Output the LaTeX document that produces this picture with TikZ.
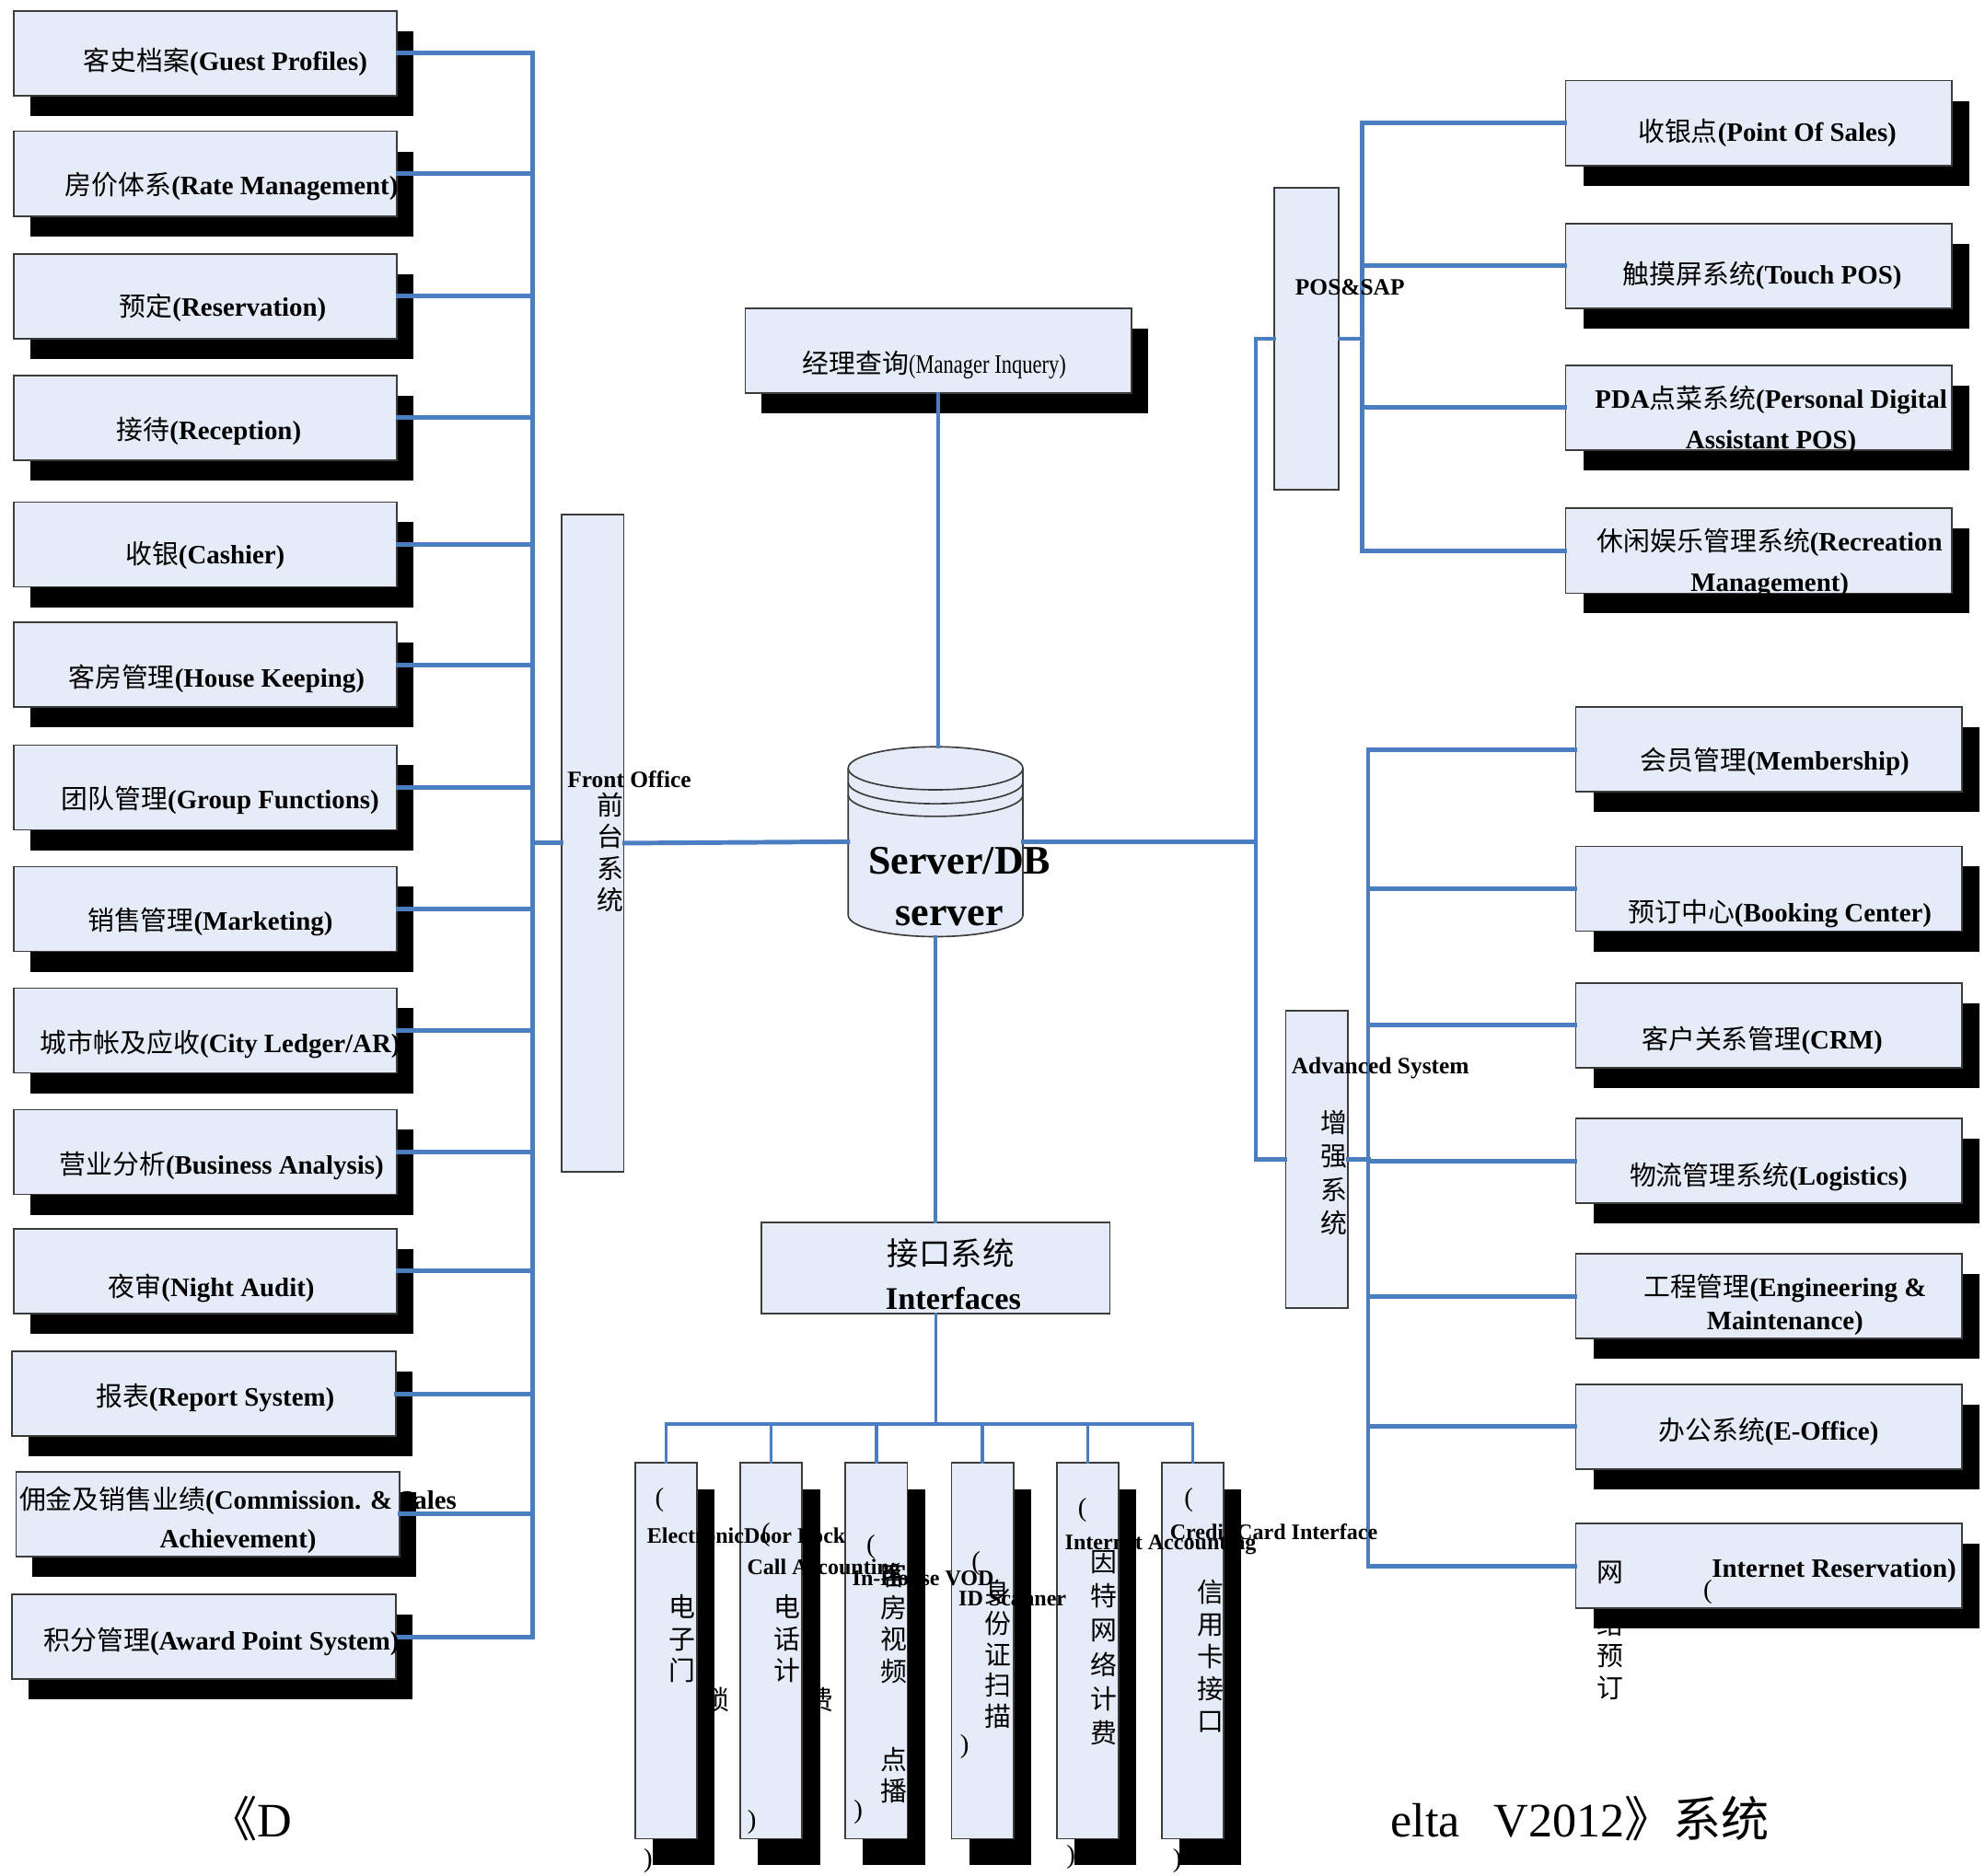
\documentclass[tikz,border=0pt]{standalone}
\usepackage{fontspec}
\setmainfont{Liberation Serif}
\newfontfamily\en{Liberation Serif}
\newfontfamily\enn[FakeStretch=0.78]{Liberation Serif}
\newfontfamily\cjk{Noto Sans CJK SC}
\usetikzlibrary{shadows}
\definecolor{boxfill}{RGB}{230,236,247}
\definecolor{boxline}{RGB}{60,60,60}
\definecolor{linkblue}{RGB}{74,126,193}
\newcommand\zh[1]{{\cjk\mdseries #1}}
\tikzset{
  pane/.style={draw=boxline, fill=boxfill, line width=1.3pt, inner sep=0pt, anchor=north west},
  shd/.style={drop shadow={shadow xshift=#1, shadow yshift=-16pt, fill=black, opacity=1}},
  hbox/.style={pane, shd=13pt, minimum width=303pt, minimum height=67pt},
  rbox/.style={pane, shd=14pt, minimum width=305pt, minimum height=67pt},
  vbox/.style={pane, minimum width=49pt},
  bbox/.style={pane, drop shadow={shadow xshift=14pt, shadow yshift=-21pt, fill=black, opacity=1}, minimum width=49pt, minimum height=297pt},
  link/.style={draw=linkblue, line width=3.6pt, line cap=rect},
  linkt/.style={draw=linkblue, line width=2.6pt, line cap=rect},
  lab/.style={font=\en\bfseries\fontsize{21}{31}\selectfont, inner sep=0pt, anchor=center, align=center},
  sm/.style={font=\en\bfseries\fontsize{18.5}{20}\selectfont, inner sep=0pt, anchor=base west},
  bsm/.style={font=\en\bfseries\fontsize{17.5}{19}\selectfont, inner sep=0pt, anchor=base west},
  vz/.style={font=\cjk\fontsize{21}{#1}\selectfont, align=center, anchor=north, inner sep=0pt},
  par/.style={font=\fontsize{21}{21}\selectfont, inner sep=0pt, anchor=center},
}
\begin{document}
\begin{tikzpicture}[x=1pt,y=-1pt]
\useasboundingbox (0,0) rectangle (1568,1482);
% ---------- left boxes ----------
\node[hbox] (L1) at (10,8) {};
\node[hbox] (L2) at (10,103) {};
\node[hbox] (L3) at (10,200) {};
\node[hbox] (L4) at (10,296) {};
\node[hbox] (L5) at (10,396) {};
\node[hbox] (L6) at (10,491) {};
\node[hbox] (L7) at (10,588) {};
\node[hbox] (L8) at (10,684) {};
\node[hbox] (L9) at (10,780) {};
\node[hbox] (L10) at (10,876) {};
\node[hbox] (L11) at (10,970) {};
\node[hbox] (L12) at (9,1067) {};
\node[hbox] (L13) at (12,1162) {};
\node[hbox] (L14) at (9,1259) {};
% ---------- central ----------
\node[vbox, minimum height=519pt] (fo) at (443,406) {};
\node[pane, shd=13pt, minimum width=305pt, minimum height=67pt] (mgr) at (588,243) {};
\node[pane, minimum width=275pt, minimum height=72pt] (ifc) at (601,965) {};
\node[inner sep=0pt, minimum width=138pt, minimum height=150pt] (db) at (739,665) {};
\filldraw[draw=boxline, fill=boxfill, line width=1.2pt]
  (670,607) -- (670,723) arc[start angle=180, end angle=0, x radius=69, y radius=17]
  -- (808,607) arc[start angle=0, end angle=-180, x radius=69, y radius=17] -- cycle;
\draw[boxline, line width=1.2pt] (670,607) arc[start angle=180, end angle=0, x radius=69, y radius=17];
\draw[boxline, line width=1.2pt] (670,618) arc[start angle=180, end angle=0, x radius=69, y radius=17];
\draw[boxline, line width=1.2pt] (670,628) arc[start angle=180, end angle=0, x radius=69, y radius=17];
% ---------- right boxes ----------
\node[vbox, minimum width=51pt, minimum height=238pt] (pos) at (1006,148) {};
\node[vbox, minimum height=235pt] (adv) at (1015,798) {};
\node[rbox] (R1) at (1236,63) {};
\node[rbox] (R2) at (1236,176) {};
\node[rbox] (R3) at (1236,288) {};
\node[rbox] (R4) at (1236,401) {};
\node[rbox] (A1) at (1244,558) {};
\node[rbox] (A2) at (1244,668) {};
\node[rbox] (A3) at (1244,776) {};
\node[rbox] (A4) at (1244,883) {};
\node[rbox] (A5) at (1244,990) {};
\node[rbox] (A6) at (1244,1093) {};
\node[rbox] (A7) at (1244,1203) {};
% ---------- bottom boxes ----------
\node[bbox] (B1) at (501,1155) {};
\node[bbox] (B2) at (584,1155) {};
\node[bbox] (B3) at (667,1155) {};
\node[bbox] (B4) at (751,1155) {};
\node[bbox] (B5) at (834,1155) {};
\node[bbox] (B6) at (917,1155) {};
% ---------- connectors ----------
\coordinate (busL) at (421,665);
\coordinate (busR) at (992,665);
\coordinate (busP) at (1076,265);
\coordinate (busA) at (1081,916);
\coordinate (busI) at (738,1125);
\foreach \n in {L1,L2,L3,L4,L5,L6,L7,L8,L9,L10,L11,L12,L13,L14}
  \draw[link] (\n.east) -- (\n.east -| busL);
\draw[link] (L1.east -| busL) -- (L14.east -| busL);
\draw[link] (fo.west -| busL) -- (fo.west);
\draw[link] (fo.east) -- (db.west);
\draw[linkt] (mgr.south) -- (mgr.south |- db.north);
\draw[linkt] (db.south) -- (db.south |- ifc.north);
\draw[link] (db.east) -- (db.east -| busR);
\draw[link] (pos.west -| busR) -- (adv.west -| busR);
\draw[link] (pos.west -| busR) -- (pos.west);
\draw[link] (adv.west -| busR) -- (adv.west);
\draw[link] (pos.east) -- (pos.east -| busP);
\draw[link] (R1.west -| busP) -- (R4.west -| busP);
\foreach \n in {R1,R2,R3,R4}
  \draw[link] (\n.west -| busP) -- (\n.west);
\draw[link] (adv.east) -- (adv.east -| busA);
\draw[linkt, line width=3pt] (A1.west -| busA) -- (A7.west -| busA);
\foreach \n in {A1,A2,A3,A4,A5,A6,A7}
  \draw[link] (\n.west -| busA) -- (\n.west);
\draw[linkt] (ifc.south) -- (ifc.south |- busI);
\draw[linkt] (B1.north |- busI) -- (B6.north |- busI);
\foreach \n in {B1,B2,B3,B4,B5,B6}
  \draw[linkt] (\n.north |- busI) -- (\n.north);
% ---------- left labels ----------
\node[lab] (tL1) at (178,49) {\zh{客史档案}(Guest Profiles)};
\node[lab] (tL2) at (183,147) {\zh{房价体系}(Rate Management)};
\node[lab] (tL3) at (176,243) {\zh{预定}(Reservation)};
\node[lab] (tL4) at (165,341) {\zh{接待}(Reception)};
\node[lab] (tL5) at (162,439) {\zh{收银}(Cashier)};
\node[lab] (tL6) at (171,536) {\zh{客房管理}(House Keeping)};
\node[lab] (tL7) at (174,632) {\zh{团队管理}(Group Functions)};
\node[lab] (tL8) at (166,728) {\zh{销售管理}(Marketing)};
\node[lab] (tL9) at (174,825) {\zh{城市帐及应收}(City Ledger/AR)};
\node[lab] (tL10) at (175,921) {\zh{营业分析}(Business Analysis)};
\node[lab] (tL11) at (167,1018) {\zh{夜审}(Night Audit)};
\node[lab] (tL12) at (170,1104) {\zh{报表}(Report System)};
\node[lab] (tL13) at (188,1201) {\zh{佣金及销售业绩}(Commission. \& Sales\\Achievement)};
\node[lab] (tL14) at (175,1297) {\zh{积分管理}(Award Point System)};
% ---------- central labels ----------
\node[sm] (tfo) at (448,622) {Front Office};
\node[vz=25] (tfo2) at (482,626) {前\\台\\系\\统};
\node[inner sep=0pt, font=\enn\fontsize{21}{24}\selectfont] (tmgr) at (738,288) {\zh{经理查询}(Manager Inquery)};
\node[inner sep=0pt, font=\en\bfseries\fontsize{32}{36}\selectfont] (tdb1) at (758,680) {Server/DB};
\node[inner sep=0pt, font=\en\bfseries\fontsize{32}{36}\selectfont] (tdb2) at (750,724) {server};
\node[inner sep=0pt, font=\cjk\fontsize{25}{27}\selectfont] (tifc1) at (751,990) {接口系统};
\node[inner sep=0pt, font=\en\bfseries\fontsize{25}{27}\selectfont] (tifc2) at (753,1026) {Interfaces};
% ---------- right labels ----------
\node[sm] (tpos) at (1023,233) {POS\&SAP};
\node[sm] (tadv) at (1020,848) {Advanced System};
\node[vz=26.5] (tadv2) at (1054,877) {增\\强\\系\\统};
\node[lab] (tR1) at (1396,105) {\zh{收银点}(Point Of Sales)};
\node[lab] (tR2) at (1392,218) {\zh{触摸屏系统}(Touch POS)};
\node[lab, font=\en\bfseries\fontsize{21}{32}\selectfont] (tR3) at (1399,332) {PDA\zh{点菜系统}(Personal Digital\\Assistant POS)};
\node[lab, font=\en\bfseries\fontsize{21}{32}\selectfont] (tR4) at (1398,445) {\zh{休闲娱乐管理系统}(Recreation\\Management)};
\node[lab] (tA1) at (1402,602) {\zh{会员管理}(Membership)};
\node[lab] (tA2) at (1406,722) {\zh{预订中心}(Booking Center)};
\node[lab] (tA3) at (1392,822) {\zh{客户关系管理}(CRM)};
\node[lab] (tA4) at (1397,930) {\zh{物流管理系统}(Logistics)};
\node[lab, font=\en\bfseries\fontsize{21}{26}\selectfont] (tA5) at (1410,1031) {\zh{工程管理}(Engineering \&\\Maintenance)};
\node[lab] (tA6) at (1397,1131) {\zh{办公系统}(E-Office)};
\node[vz=25] (tA7a) at (1272,1233) {网};
\node[vz=25] (tA7d) at (1272,1273) {络\\预\\订};
\node[par] (tA7b) at (1349,1258) {(};
\node[lab, anchor=base west] (tA7c) at (1352,1246) {Internet Reservation)};
% ---------- bottom labels ----------
\node[par] (pB1a) at (521,1185) {(};
\node[bsm] (eB1) at (511,1219) {ElectronicDoor Lock};
\node[vz=25] (zB1) at (539,1260) {电\\子\\门};
\node[vz=25] (zB1b) at (566,1333) {锁};
\node[par] (pB1b) at (512,1470) {)};
\node[par] (pB2a) at (605,1213) {(};
\node[bsm] (eB2) at (590,1244) {Call Accounting};
\node[vz=25] (zB2) at (622,1260) {电\\话\\计};
\node[vz=25] (zB2b) at (648,1333) {费};
\node[par] (pB2b) at (594,1440) {)};
\node[par] (pB3a) at (688,1222) {(};
\node[bsm] (eB3) at (673,1253) {In-House VOD};
\node[vz=25] (zB3) at (706,1235) {客\\房\\视\\频};
\node[vz=25] (zB3b) at (706,1380) {点\\播};
\node[par] (pB3b) at (678,1432) {)};
\node[par] (pB4a) at (771,1235) {(};
\node[bsm] (eB4) at (757,1269) {ID Scanner};
\node[vz=24.5] (zB4) at (788,1248) {身\\份\\证\\扫\\描};
\node[par] (pB4b) at (762,1380) {)};
\node[par] (pB5a) at (855,1193) {(};
\node[bsm] (eB5) at (841,1224) {Internet Accounting};
\node[vz=27] (zB5) at (872,1225) {因\\特\\网\\络\\计\\费};
\node[par] (pB5b) at (846,1467) {)};
\node[par] (pB6a) at (939,1185) {(};
\node[bsm] (eB6) at (924,1216) {Credit Card Interface};
\node[vz=25.5] (zB6) at (956,1248) {信\\用\\卡\\接\\口};
\node[par] (pB6b) at (930,1470) {)};
% ---------- title ----------
\node[inner sep=0pt, font=\fontsize{38}{40}\selectfont] (ttl1) at (198,1437) {\zh{《}D};
\node[inner sep=0pt, font=\fontsize{38}{40}\selectfont] (ttl2) at (1248,1437) {elta\hspace{0.7em}V2012\zh{》系统}};
\end{tikzpicture}
\end{document}
